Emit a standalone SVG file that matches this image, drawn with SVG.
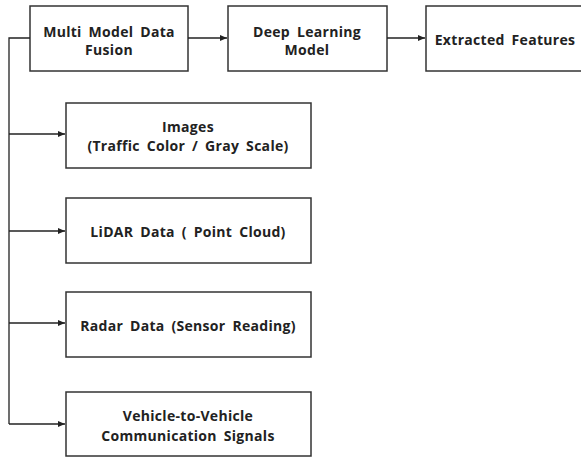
<svg xmlns="http://www.w3.org/2000/svg" width="581" height="459" viewBox="0 0 581 459">
<defs>
<marker id="ah" markerWidth="8" markerHeight="6" refX="7" refY="3" orient="auto" markerUnits="userSpaceOnUse">
<path d="M0,0 L7,3 L0,6 z" fill="#222"/>
</marker>
<style>
.box{fill:#fff;stroke:#333;stroke-width:1.5}
.t{font-family:"Open Sans","Liberation Sans",sans-serif;font-weight:bold;font-size:14px;letter-spacing:0.3px;word-spacing:3px;fill:#222;text-anchor:middle;dominant-baseline:central}
.c{fill:none;stroke:#222;stroke-width:1.3}
</style>
</defs>
<rect width="581" height="459" fill="#fff"/>
<g id="n-fusion"><rect class="box" x="30" y="6" width="158" height="65"/><text class="t" x="109" y="31">Multi Model Data</text><text class="t" x="109" y="49">Fusion</text></g>
<g id="n-dl"><rect class="box" x="228" y="6" width="159" height="65"/><text class="t" x="307" y="31">Deep Learning</text><text class="t" x="307" y="49">Model</text></g>
<g id="n-feat"><rect class="box" x="426" y="6" width="156" height="65"/><text class="t" x="505" y="39">Extracted Features</text></g>
<g id="n-images"><rect class="box" x="66" y="103" width="245" height="65"/><text class="t" x="188" y="126">Images</text><text class="t" x="188" y="145">(Traffic Color / Gray Scale)</text></g>
<g id="n-lidar"><rect class="box" x="66" y="198" width="245" height="65"/><text class="t" x="188" y="231">LiDAR Data ( Point Cloud)</text></g>
<g id="n-radar"><rect class="box" x="66" y="292" width="245" height="65"/><text class="t" x="188" y="325">Radar Data (Sensor Reading)</text></g>
<g id="n-v2v"><rect class="box" x="66" y="392" width="245" height="64"/><text class="t" x="188" y="415">Vehicle-to-Vehicle</text><text class="t" x="188" y="435">Communication Signals</text></g>
<g id="connectors">
<line class="c" x1="188" y1="38" x2="227" y2="38" marker-end="url(#ah)"/>
<line class="c" x1="387" y1="38" x2="425" y2="38" marker-end="url(#ah)"/>
<polyline class="c" points="30,38 9,38 9,424"/>
<line class="c" x1="9" y1="134" x2="65" y2="134" marker-end="url(#ah)"/>
<line class="c" x1="9" y1="231" x2="65" y2="231" marker-end="url(#ah)"/>
<line class="c" x1="9" y1="323" x2="65" y2="323" marker-end="url(#ah)"/>
<line class="c" x1="9" y1="424" x2="65" y2="424" marker-end="url(#ah)"/>
</g>
</svg>
